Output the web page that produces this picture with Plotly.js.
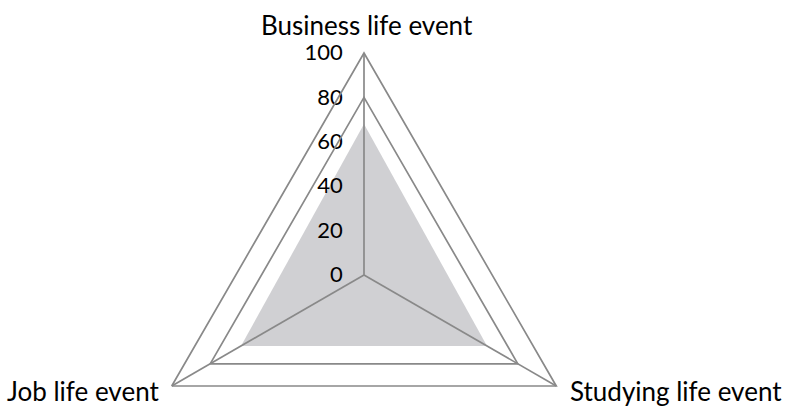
<!DOCTYPE html>
<html lang="en">
<head>
    <meta charset="UTF-8">
    <title>Life events radar</title>
    <script src="https://cdn.plot.ly/plotly-3.0.1.min.js" charset="utf-8"></script>
    <style>
        html, body { margin: 0; padding: 0; overflow: hidden; background: #fff; }
    </style>
</head>
<body>
    <div id="plot" style="width: 800px; height: 510px;"></div>
    <script>
        const categories = ['Business life event', 'Studying life event', 'Job life event'];
        const values = [68, 64, 64];
        const radialTicks = [0, 20, 40, 60, 80, 100];
        const gridLevels = [80, 100];

        const gridColor = '#898989';
        const fontFamily = 'Lato, "Open Sans", sans-serif';

        // plot area in pixels (margins below), used to place the category labels
        const areaW = 728, areaTop = 53, areaBottom = 497;
        const px = x => x / areaW;
        const py = y => (areaBottom - y) / (areaBottom - areaTop);

        // label spots: [x px, y px, xanchor]
        const labelSpots = [
            [367, 25, 'center'],
            [568, 391, 'left'],
            [161, 391, 'right']
        ];

        // filled area, drawn in the bottom subplot
        const area = {
            type: 'scatterpolar',
            subplot: 'polar',
            r: values,
            theta: categories,
            fill: 'toself',
            fillcolor: 'rgb(208,208,211)',
            mode: 'lines',
            line: { width: 0, color: 'rgba(0,0,0,0)' },
            hoverinfo: 'skip'
        };

        // invisible copy so the grid subplot on top gets drawn
        const gridHolder = {
            type: 'scatterpolar',
            subplot: 'polar2',
            r: values,
            theta: categories,
            mode: 'lines',
            line: { width: 0, color: 'rgba(0,0,0,0)' },
            hoverinfo: 'skip'
        };

        const angularBase = {
            type: 'category',
            categoryarray: categories,
            rotation: 90,
            direction: 'clockwise',
            showticklabels: false,
            ticks: ''
        };

        const fullDomain = { x: [0, 1], y: [0, 1] };

        const annotations = categories.map((c, i) => ({
            text: c,
            xref: 'paper',
            yref: 'paper',
            x: px(labelSpots[i][0]),
            y: py(labelSpots[i][1]),
            xanchor: labelSpots[i][2],
            yanchor: 'middle',
            showarrow: false,
            font: { size: 26, color: '#000', family: fontFamily }
        }));

        const layout = {
            width: 800,
            height: 510,
            margin: { l: 0, r: 72, t: 53, b: 13 },
            paper_bgcolor: '#fff',
            showlegend: false,
            font: { family: fontFamily, color: '#000' },
            annotations: annotations,
            polar: {
                domain: fullDomain,
                gridshape: 'linear',
                bgcolor: 'rgba(0,0,0,0)',
                radialaxis: {
                    range: [0, 100],
                    angle: 90,
                    side: 'counterclockwise',
                    tickvals: radialTicks,
                    ticks: 'outside',
                    ticklen: 13,
                    tickcolor: 'rgba(0,0,0,0)',
                    tickangle: 90,
                    showgrid: false,
                    showline: false,
                    tickfont: { size: 22, color: '#000' }
                },
                angularaxis: Object.assign({}, angularBase, {
                    showgrid: false,
                    showline: false
                })
            },
            polar2: {
                domain: fullDomain,
                gridshape: 'linear',
                bgcolor: 'rgba(0,0,0,0)',
                radialaxis: {
                    range: [0, 100],
                    angle: 90,
                    tickvals: gridLevels,
                    showticklabels: false,
                    ticks: '',
                    showline: false,
                    showgrid: true,
                    gridcolor: gridColor,
                    gridwidth: 1.7
                },
                angularaxis: Object.assign({}, angularBase, {
                    showgrid: true,
                    gridcolor: gridColor,
                    gridwidth: 1.7,
                    showline: true,
                    linecolor: gridColor,
                    linewidth: 1.7
                })
            }
        };

        Plotly.newPlot('plot', [area, gridHolder], layout, { staticPlot: true });
    </script>
</body>
</html>
